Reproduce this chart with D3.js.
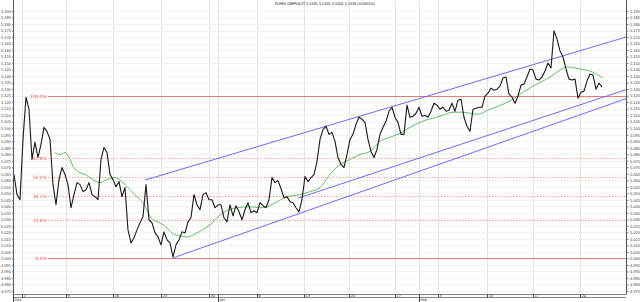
<!DOCTYPE html>
<html>
<head>
<meta charset="utf-8">
<script src="https://cdn.jsdelivr.net/npm/d3@7"></script>
<style>
  body { margin: 0; background: #fff; }
  svg { display: block; font-family: "DejaVu Sans", sans-serif; }
</style>
</head>
<body>
<div id="chart"></div>
<script>
// close prices, one sample per bar (bar 0 = first bar on the left)
const prices = [
  5.0644, 5.0490, 5.0451, 5.0914, 5.1238, 5.1146, 5.0760, 5.0891, 5.0775, 5.0876,
  5.1007, 5.0976, 5.0914, 5.0567, 5.0412, 5.0605, 5.0698, 5.0644, 5.0567, 5.0389,
  5.0490, 5.0582, 5.0567, 5.0513, 5.0528, 5.0582, 5.0490, 5.0474, 5.0451, 5.0760,
  5.0852, 5.0814, 5.0644, 5.0605, 5.0551, 5.0590, 5.0474, 5.0544, 5.0219, 5.0119,
  5.0158, 5.0219, 5.0273, 5.0320, 5.0567, 5.0297, 5.0273, 5.0196, 5.0165, 5.0104,
  5.0204, 5.0142, 5.0119, 5.0011, 5.0104, 5.0142, 5.0204, 5.0196, 5.0281, 5.0312,
  5.0490, 5.0412, 5.0374, 5.0490, 5.0505, 5.0451, 5.0451, 5.0389, 5.0412, 5.0412,
  5.0312, 5.0281, 5.0412, 5.0327, 5.0405, 5.0358, 5.0297, 5.0374, 5.0428, 5.0351,
  5.0366, 5.0351, 5.0428, 5.0405, 5.0389, 5.0451, 5.0621, 5.0582, 5.0598, 5.0536,
  5.0466, 5.0474, 5.0436, 5.0428, 5.0389, 5.0358, 5.0451, 5.0629, 5.0590, 5.0621,
  5.0644, 5.0744, 5.0914, 5.0991, 5.1015, 5.0953, 5.0968, 5.0899, 5.0775, 5.0721,
  5.0698, 5.0798, 5.0914, 5.0953, 5.1030, 5.1084, 5.1069, 5.1045, 5.0914, 5.0822,
  5.0775, 5.0837, 5.0953, 5.1007, 5.1053, 5.1130, 5.1161, 5.1084, 5.1045, 5.0953,
  5.0953, 5.1177, 5.1084, 5.1092, 5.1115, 5.1161, 5.1092, 5.1099, 5.1084, 5.1130,
  5.1192, 5.1177, 5.1146, 5.1161, 5.1130, 5.1138, 5.1192, 5.1130, 5.1215, 5.1223,
  5.1084, 5.1015, 5.0976, 5.1146, 5.1154, 5.1161, 5.1161, 5.1246, 5.1269, 5.1308,
  5.1292, 5.1300, 5.1323, 5.1385, 5.1393, 5.1262, 5.1238, 5.1192, 5.1246, 5.1331,
  5.1339, 5.1393, 5.1455, 5.1447, 5.1377, 5.1370, 5.1393, 5.1439, 5.1501, 5.1462,
  5.1748, 5.1686, 5.1594, 5.1547, 5.1455, 5.1377, 5.1370, 5.1377, 5.1231, 5.1277,
  5.1285, 5.1362, 5.1416, 5.1408, 5.1300, 5.1347, 5.1316
];

// moving average: [bar, value]
const movingAvg = [
  [13.7, 5.0814], [15.3, 5.0798], [17, 5.0814], [18.7, 5.0760], [19.7, 5.0706],
  [22, 5.0659], [23.7, 5.0644], [25.3, 5.0621], [28.7, 5.0582], [31, 5.0605],
  [33.7, 5.0621], [36.3, 5.0582], [38.7, 5.0528], [41, 5.0474], [43, 5.0428],
  [44.7, 5.0351], [46.3, 5.0297], [48.7, 5.0273], [51, 5.0235], [53, 5.0189],
  [55.3, 5.0173], [57.7, 5.0165], [61, 5.0196], [65.3, 5.0258], [69.7, 5.0351],
  [74.3, 5.0389], [78.7, 5.0397], [82, 5.0389], [84.3, 5.0397], [87.7, 5.0436],
  [91, 5.0474], [95.3, 5.0490], [98.7, 5.0513], [102, 5.0544], [105.3, 5.0644],
  [108.7, 5.0721], [112, 5.0760], [115.3, 5.0798], [118.7, 5.0822], [122, 5.0899],
  [125.3, 5.0930], [128.7, 5.0961], [132, 5.1007], [135.3, 5.1045], [142, 5.1092],
  [146.3, 5.1123], [149.7, 5.1123], [154.3, 5.1107], [158.7, 5.1146], [163, 5.1184],
  [166.3, 5.1223], [169.7, 5.1277], [173, 5.1323], [176.3, 5.1362], [179.7, 5.1408],
  [182, 5.1447], [184.3, 5.1470], [188.7, 5.1455], [192, 5.1439], [195.3, 5.1401],
  [196.3, 5.1385]
];

// trend channel lines: [[bar, price], [bar, price]]
const channelLines = [
  [[43.7, 5.0602], [204, 5.1700]],
  [[94.7, 5.0463], [204, 5.1296]],
  [[53, 5.0004], [204, 5.1227]]
];

// fibonacci retracement
const fibLow = 5.000;
const fibHigh = 5.125;
const fibLevels = [0, 0.236, 0.382, 0.5, 0.618, 1];
const fibLabels = ["0.0%", "23.6%", "38.2%", "50.0%", "61.8%", "100.0%"];

// x axis: weekly ticks and month starts (bar positions)
const weekTicks = [2.67, 17.33, 33, 49, 65, 81, 96.67, 111.67, 127, 141.33, 157.67, 173, 188.67];
const weekLabels = ["2", "9", "16", "23", "30", "6", "13", "20", "27", "3", "10", "17", "24"];
const monthTicks = [-0.33, 68, 135];
const monthLabels = ["Dec", "Jan", "Feb"];

const titleText = "FOREX GBPPLN ZT 5.1310, 5.1325, 5.1302, 5.1316 (-0.0001%)";

const W = 640, H = 302;
const plotL = 13, plotR = 626, plotT = 7, plotB = 294.5;

const svg = d3.select("#chart").append("svg")
  .attr("width", W)
  .attr("height", H);

const x = d3.scaleLinear().domain([-0.33, 204]).range([plotL, plotR]);
const y = d3.scaleLinear().domain([4.9719, 5.1931]).range([295, plotT]);

const yTicks = d3.range(0, 44).map(k => 4.975 + k * 0.005);

// horizontal grid
svg.append("g")
  .selectAll("line")
  .data(yTicks)
  .enter().append("line")
  .attr("x1", plotL).attr("x2", plotR)
  .attr("y1", d => Math.round(y(d)) + 0.5)
  .attr("y2", d => Math.round(y(d)) + 0.5)
  .attr("stroke", "#e8e8e8")
  .attr("stroke-dasharray", "1,1");

// vertical grid
svg.append("g")
  .selectAll("line")
  .data(weekTicks.concat(monthTicks.slice(1)))
  .enter().append("line")
  .attr("x1", d => Math.round(x(d)) + 0.5)
  .attr("x2", d => Math.round(x(d)) + 0.5)
  .attr("y1", 0).attr("y2", plotB)
  .attr("stroke", "#e4e4e4");

// fibonacci lines
const fib = svg.append("g");
fibLevels.forEach((lv, i) => {
  const val = fibLow + (fibHigh - fibLow) * lv;
  const yy = Math.round(y(val)) + 0.5;
  const solid = lv === 0 || lv === 1;
  fib.append("line")
    .attr("x1", 48).attr("x2", plotR)
    .attr("y1", yy).attr("y2", yy)
    .attr("stroke", solid ? "#e57b7b" : "#f0a4a4")
    .attr("stroke-dasharray", solid ? null : "1.5,1.5");
  fib.append("text")
    .attr("x", 47).attr("y", yy + 1.5)
    .attr("text-anchor", "end")
    .attr("font-size", "4.5px")
    .attr("fill", "#e05050")
    .text(fibLabels[i]);
});

// channel lines
svg.append("g")
  .selectAll("line")
  .data(channelLines)
  .enter().append("line")
  .attr("x1", d => x(d[0][0])).attr("y1", d => y(d[0][1]))
  .attr("x2", d => x(d[1][0])).attr("y2", d => y(d[1][1]))
  .attr("stroke", "#5b5bf0")
  .attr("stroke-width", 0.9);

// moving average
svg.append("path")
  .datum(movingAvg)
  .attr("fill", "none")
  .attr("stroke", "#3fae3f")
  .attr("stroke-width", 0.8)
  .attr("d", d3.line().x(d => x(d[0])).y(d => y(d[1])).curve(d3.curveMonotoneX));

// price
svg.append("path")
  .datum(prices)
  .attr("fill", "none")
  .attr("stroke", "#1a1a1a")
  .attr("stroke-width", 1.1)
  .attr("stroke-linejoin", "round")
  .attr("d", d3.line().x((d, i) => x(i)).y(d => y(d)));

// y axes
const fmt = d3.format(".3f");
const yl = svg.append("g")
  .attr("transform", `translate(${plotL + 0.5},0)`)
  .call(d3.axisLeft(y).tickValues(yTicks).tickSize(1.5).tickPadding(1).tickFormat(fmt));
const yr = svg.append("g")
  .attr("transform", `translate(${plotR + 0.5},0)`)
  .call(d3.axisRight(y).tickValues(yTicks).tickSize(2).tickPadding(1.5).tickFormat(fmt));
[yl, yr].forEach(g => {
  g.select(".domain").attr("d", `M0,0V${plotB}`).attr("stroke", "#555");
  g.selectAll("text").attr("font-size", "4px").attr("fill", "#444");
  g.selectAll(".tick line").attr("stroke", "#777");
});

// x axis band
const xa = svg.append("g");
[plotB, plotB + 3].forEach(yy => {
  xa.append("line")
    .attr("x1", plotL).attr("x2", plotR)
    .attr("y1", yy).attr("y2", yy)
    .attr("stroke", "#666").attr("stroke-width", 0.8);
});
xa.selectAll(".wk")
  .data(weekTicks)
  .enter().append("line")
  .attr("x1", d => Math.round(x(d)) + 0.5)
  .attr("x2", d => Math.round(x(d)) + 0.5)
  .attr("y1", plotB).attr("y2", plotB + 3)
  .attr("stroke", "#444");
xa.selectAll(".wkl")
  .data(weekTicks)
  .enter().append("text")
  .attr("x", d => Math.round(x(d)) + 1.5)
  .attr("y", plotB + 2.8)
  .attr("font-size", "3.6px")
  .attr("fill", "#333")
  .text((d, i) => weekLabels[i]);
xa.selectAll(".mo")
  .data(monthTicks)
  .enter().append("line")
  .attr("x1", d => Math.round(x(d)) + 0.5)
  .attr("x2", d => Math.round(x(d)) + 0.5)
  .attr("y1", plotB).attr("y2", H)
  .attr("stroke", "#444");
xa.selectAll(".mol")
  .data(monthTicks)
  .enter().append("text")
  .attr("x", d => Math.round(x(d)) + 1.5)
  .attr("y", plotB + 6.8)
  .attr("font-size", "3.6px")
  .attr("fill", "#333")
  .text((d, i) => monthLabels[i]);

// title
svg.append("text")
  .attr("x", 275).attr("y", 4.5)
  .attr("font-size", "3.8px")
  .attr("fill", "#333")
  .attr("textLength", 100)
  .text(titleText);
</script>
</body>
</html>
